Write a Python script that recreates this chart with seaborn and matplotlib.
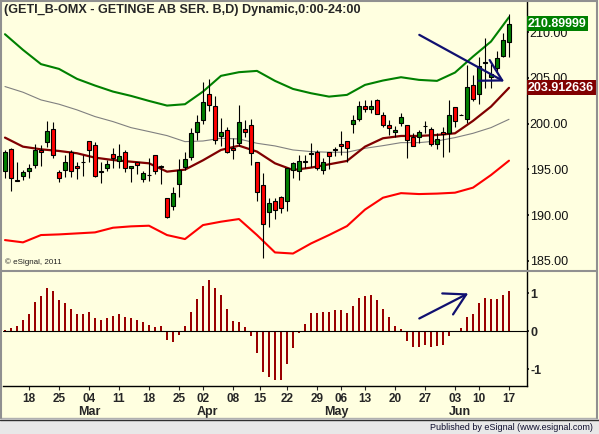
import numpy as np
import matplotlib
matplotlib.use('Agg')
import matplotlib.pyplot as plt
import matplotlib.transforms as mtransforms
from matplotlib.lines import Line2D
from matplotlib.patches import Rectangle
import seaborn as sns

# daily candles, GETI_B, Feb 14 -> Jun 17 2011 (trading-day index)
opens = [194.82, 197.19, 193.80, 194.24, 194.79, 195.44, 197.10, 197.96, 199.38, 194.68,
         194.89, 196.90, 195.37, 195.80, 198.07, 197.63, 194.77, 195.11, 196.65, 195.92,
         196.90, 195.11, 195.77, 193.95, 194.41, 196.54, 195.32, 191.87, 190.96, 193.36,
         195.30, 196.39, 199.05, 200.37, 203.21, 201.97, 198.69, 199.27, 197.37, 197.85,
         199.38, 199.85, 195.77, 193.25, 190.30, 191.50, 191.94, 191.58, 194.97, 194.82,
         195.87, 196.74, 196.87, 194.89, 196.87, 197.18, 197.78, 198.07, 199.93, 200.51,
         201.90, 201.57, 202.55, 200.95, 199.85, 199.05, 200.04, 199.82, 198.58, 198.58,
         199.76, 199.45, 197.78, 199.05, 198.94, 201.79, 200.97, 200.48, 204.19, 203.21,
         206.69, 205.07, 206.13, 207.40, 208.97]
highs = [197.12, 197.30, 195.85, 194.90, 195.62, 197.80, 197.70, 200.29, 200.20, 194.93,
         196.57, 197.12, 195.85, 196.57, 198.14, 198.03, 195.85, 196.02, 197.30, 197.74,
         197.12, 195.37, 195.85, 194.82, 196.21, 196.54, 195.48, 191.90, 193.04, 196.10,
         196.94, 199.56, 200.95, 204.60, 204.89, 203.00, 200.58, 199.67, 198.47, 202.04,
         200.40, 200.51, 195.85, 194.57, 191.83, 191.83, 192.09, 195.11, 195.85, 196.57,
         196.57, 197.89, 197.16, 196.21, 196.87, 197.48, 199.20, 198.07, 200.95, 202.48,
         202.55, 202.55, 202.70, 201.24, 200.37, 199.74, 201.13, 199.82, 198.94, 199.31,
         200.33, 199.60, 198.94, 199.60, 202.59, 201.79, 201.05, 206.38, 205.29, 207.33,
         209.34, 206.53, 207.95, 209.88, 211.96]
lows = [194.02, 192.63, 193.70, 193.87, 194.05, 195.19, 195.40, 197.48, 196.28, 193.58,
        194.17, 194.13, 193.91, 194.28, 195.85, 194.20, 193.47, 194.82, 195.19, 195.19,
        194.75, 193.58, 194.46, 193.58, 193.76, 194.50, 193.36, 189.70, 190.56, 192.01,
        194.90, 196.02, 198.21, 199.93, 201.42, 197.78, 197.59, 196.76, 196.10, 197.59,
        198.58, 195.48, 191.58, 185.34, 188.73, 189.57, 190.23, 190.48, 194.02, 193.87,
        195.11, 195.30, 194.93, 194.53, 195.00, 196.50, 196.57, 195.85, 198.94, 200.30,
        201.30, 201.13, 201.10, 199.67, 198.76, 198.58, 199.74, 196.21, 197.56, 197.85,
        199.00, 197.60, 197.19, 196.32, 196.94, 199.67, 200.90, 200.11, 202.52, 202.12,
        203.87, 203.87, 205.69, 207.26, 207.26]
closes = [196.94, 194.02, 193.76, 194.68, 195.15, 197.12, 196.90, 199.20, 196.57, 194.02,
          195.81, 194.82, 195.11, 195.75, 197.08, 194.24, 194.73, 195.55, 196.21, 196.43,
          195.11, 195.37, 195.48, 194.57, 194.37, 194.86, 195.28, 189.75, 192.42, 194.89,
          196.10, 198.94, 200.22, 202.33, 202.04, 198.18, 199.05, 196.94, 197.08, 200.15,
          199.05, 196.76, 192.49, 188.99, 191.30, 190.52, 190.74, 195.11, 195.70, 195.92,
          195.83, 196.70, 195.11, 195.81, 196.43, 197.14, 197.52, 197.37, 200.37, 201.90,
          201.60, 201.90, 201.10, 199.85, 199.49, 199.27, 200.70, 198.21, 197.59, 199.05,
          199.72, 197.78, 198.29, 198.83, 200.99, 200.33, 200.93, 203.97, 202.73, 206.35,
          206.65, 205.43, 207.15, 209.12, 210.90]

# bands / averages read every 3rd bar
band_days = list(range(0, 85, 3))
upper_band = [209.77, 208.06, 206.50, 205.98, 204.89, 204.16, 203.50, 203.03, 202.48, 201.97,
              202.12, 203.50, 205.22, 205.62, 205.76, 204.67, 203.79, 203.32, 202.95, 203.14,
              204.23, 204.71, 205.07, 204.78, 204.67, 205.58, 207.33, 208.97, 211.63]
lower_band = [187.27, 187.02, 187.82, 187.89, 188.00, 188.11, 188.62, 188.77, 188.84, 187.82,
              187.38, 188.91, 189.28, 189.57, 187.82, 185.92, 185.80, 186.90, 187.82, 188.80,
              190.60, 191.90, 192.40, 192.30, 192.35, 192.45, 193.00, 194.38, 195.95]
mid_avg = [198.47, 197.48, 197.19, 197.01, 196.76, 196.28, 196.02, 195.84, 195.66, 194.75,
           194.97, 195.99, 197.12, 197.59, 196.94, 195.66, 194.93, 195.19, 195.55, 195.92,
           197.48, 198.40, 198.65, 198.65, 198.76, 198.94, 200.30, 201.86, 203.91]
slow_avg = [204.05, 203.43, 202.59, 202.12, 201.50, 200.77, 200.22, 199.56, 199.13, 198.69,
            198.03, 198.10, 198.40, 198.32, 197.85, 197.56, 197.12, 196.94, 196.87, 196.87,
            197.30, 197.59, 197.92, 197.92, 198.10, 198.47, 198.94, 199.56, 200.47]

# lower oscillator
osc = [0.03, 0.08, 0.14, 0.29, 0.46, 0.76, 0.92, 1.13, 1.06, 0.82,
       0.73, 0.58, 0.46, 0.45, 0.50, 0.34, 0.29, 0.34, 0.39, 0.45,
       0.37, 0.33, 0.29, 0.24, 0.16, 0.11, 0.13, -0.24, -0.28, -0.11,
       0.13, 0.50, 0.84, 1.18, 1.34, 1.13, 0.95, 0.58, 0.26, 0.24,
       0.11, -0.12, -0.57, -1.07, -1.20, -1.28, -1.28, -0.86, -0.46, -0.06,
       0.19, 0.48, 0.48, 0.51, 0.51, 0.54, 0.54, 0.48, 0.67, 0.88,
       0.93, 0.96, 0.82, 0.59, 0.37, 0.14, 0.06, -0.25, -0.43, -0.43,
       -0.36, -0.43, -0.40, -0.36, -0.12, -0.02, 0.08, 0.38, 0.46, 0.75,
       0.88, 0.85, 0.85, 0.96, 1.06]

day_ticks = [4, 9, 14, 19, 24, 29, 33, 38, 42.5, 47, 52, 56, 60, 65, 70, 75, 79, 84]
day_labels = ['18', '25', '04', '11', '18', '25', '02', '08', '15', '22',
              '29', '06', '13', '20', '27', '03', '10', '17']
month_pos = [14, 33.7, 55.2, 75.8]
month_labels = ['Mar', 'Apr', 'May', 'Jun']
price_ticks = [185, 190, 195, 200, 205, 210]
last_close = 210.89999
last_mid = 203.912636

# hand drawn arrows (start, end) in data units
price_arrow = [(69.05, 209.7), (83.2, 204.6)]
osc_arrow = [(69.05, 0.33), (77.2, 0.99)]

sns.set_theme(style='white')
plt.rcParams['font.family'] = ['Liberation Sans', 'DejaVu Sans']

bg = '#FFFFE0'
W, H = 599, 434
fig = plt.figure(figsize=(W / 100, H / 100), dpi=100, facecolor=bg)
ax = fig.add_axes([3 / W, 1 - 270 / H, 524 / W, 269 / H], facecolor=bg)
ax2 = fig.add_axes([3 / W, 1 - 386 / H, 524 / W, 114 / H], facecolor=bg)

days = np.arange(len(closes))
o = np.array(opens)
c = np.array(closes)
body_col = np.where(c >= o, '#008000', '#FF0000')

# bands
sns.lineplot(x=band_days, y=slow_avg, ax=ax, color='#808080', lw=0.8, zorder=2)
sns.lineplot(x=band_days, y=upper_band, ax=ax, color='#008000', lw=1.5, zorder=2)
sns.lineplot(x=band_days, y=lower_band, ax=ax, color='#FF0000', lw=1.5, zorder=2)
sns.lineplot(x=band_days, y=mid_avg, ax=ax, color='#800000', lw=1.6, zorder=2)

# candles
ax.vlines(days, lows, highs, color='black', lw=0.8, zorder=3)
ax.bar(days, np.abs(c - o), bottom=np.minimum(o, c), width=0.72, color=body_col,
       edgecolor='black', linewidth=0.8, zorder=4)

ax.set_xlim(-0.33, 87)
ax.set_ylim(184.0, 213.4)
ax.set_xticks([])
ax.yaxis.tick_right()
ax.set_yticks(price_ticks)
ax.set_yticklabels([f'{v:.2f}' for v in price_ticks])
ax.tick_params(axis='y', right=True, length=1.5, pad=0.5, labelsize=9, colors='#111111')
ax.set_xlabel('')
ax.set_ylabel('')
for s in ['left', 'top', 'bottom']:
    ax.spines[s].set_visible(False)
ax.spines['right'].set_color('black')
ax.spines['right'].set_linewidth(1)

rtrans = mtransforms.blended_transform_factory(ax.transAxes, ax.transData)
ax.text(1.002, last_close, f'{last_close:.5f}', transform=rtrans, ha='left', va='center',
        color='white', fontsize=9, fontweight='bold', zorder=10, clip_on=False,
        bbox=dict(boxstyle='square,pad=0.12', fc='#008000', ec='none'))
ax.text(1.002, last_mid, f'{last_mid:.6f}', transform=rtrans, ha='left', va='center',
        color='white', fontsize=9, fontweight='bold', zorder=10, clip_on=False,
        bbox=dict(boxstyle='square,pad=0.12', fc='#800000', ec='none'))

ax.text(0.004, 0.028, '\u00a9 eSignal, 2011', transform=ax.transAxes, fontsize=5.8,
        ha='left', va='center', color='#222222')

arrow_kw = dict(arrowstyle='->,head_length=1.5,head_width=0.85', color='#101070',
                lw=1.6, mutation_scale=10, shrinkA=0, shrinkB=0)
ax.annotate('', xy=price_arrow[1], xytext=price_arrow[0], arrowprops=arrow_kw, zorder=6)

# oscillator histogram
sns.barplot(x=days, y=osc, ax=ax2, native_scale=True, width=0.33, color='#990000',
            saturation=1, linewidth=0)
ax2.axhline(0, color='black', lw=0.8, zorder=1)
ax2.annotate('', xy=osc_arrow[1], xytext=osc_arrow[0], arrowprops=arrow_kw, zorder=6)
ax2.set_xlim(-0.33, 87)
ax2.set_ylim(-1.447, 1.553)
ax2.yaxis.tick_right()
ax2.set_yticks([-1, 0, 1])
ax2.set_yticklabels(['-1', '0', '1'])
ax2.set_xticks(day_ticks)
ax2.set_xticklabels(day_labels)
ax2.tick_params(axis='y', right=True, length=1.5, pad=1, labelsize=9)
ax2.tick_params(axis='x', bottom=True, length=3, width=0.8, pad=2, labelsize=8.5)
for lab in ax2.get_xticklabels() + ax2.get_yticklabels():
    lab.set_fontweight('bold')
ax2.set_xlabel('')
ax2.set_ylabel('')
ax2.spines['left'].set_visible(False)
ax2.spines['top'].set_visible(False)
for s in ['right', 'bottom']:
    ax2.spines[s].set_color('black')
    ax2.spines[s].set_linewidth(1)

btrans = mtransforms.blended_transform_factory(ax2.transData, ax2.transAxes)
for pos, lab in zip(month_pos, month_labels):
    ax2.text(pos, -0.23, lab, transform=btrans, ha='center', va='center',
             fontsize=9, fontweight='bold', clip_on=False)

# title
fig.text(4 / W, 1 - 10 / H, '(GETI_B-OMX - GETINGE AB SER. B,D) Dynamic,0:00-24:00',
         ha='left', va='center', fontsize=9.1, fontweight='bold')

# frame lines and footer
fig.add_artist(Rectangle((0, 0), 1, 15 / H, transform=fig.transFigure,
                         fc='#E8E8E8', ec='none'))
fig.add_artist(Line2D([0, 597 / W], [1 - 418 / H] * 2, transform=fig.transFigure,
                      color='#B0B0B0', lw=1))
fig.add_artist(Line2D([0, 1], [1 - 420 / H] * 2, transform=fig.transFigure,
                      color='#303030', lw=1))
fig.add_artist(Line2D([0, 597 / W], [1 - 271 / H] * 2, transform=fig.transFigure,
                      color='#909090', lw=1.5))
fig.add_artist(Line2D([1 / W, 1 / W], [1 - 418 / H, 1], transform=fig.transFigure,
                      color='#909090', lw=1.5))
fig.add_artist(Line2D([0, 597 / W], [1 - 0.5 / H] * 2, transform=fig.transFigure,
                      color='#909090', lw=1.5))
fig.add_artist(Line2D([596.5 / W, 596.5 / W], [1 - 418 / H, 1], transform=fig.transFigure,
                      color='#909090', lw=1.5))
fig.text(593 / W, 1 - 427 / H, 'Published by eSignal (www.esignal.com)', ha='right',
         va='center', fontsize=6.5, color='#101030')

fig.savefig('out.png', dpi=100, facecolor=bg)
